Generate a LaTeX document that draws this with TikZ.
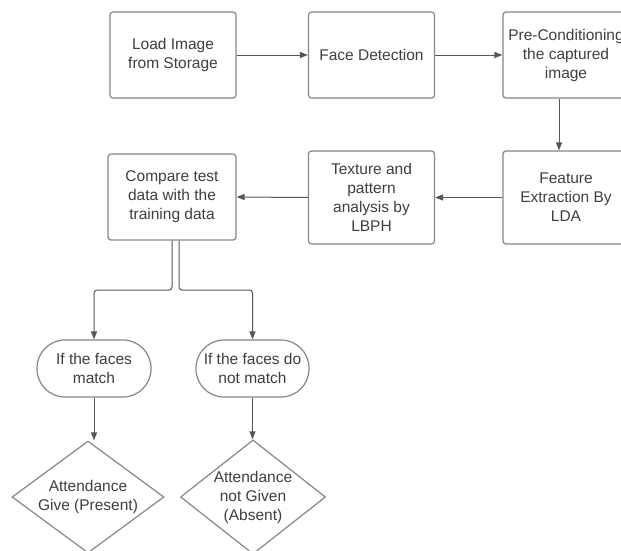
\documentclass[tikz,border=0pt]{standalone}
\usepackage{fontspec}
\setmainfont{Liberation Sans}
\usetikzlibrary{arrows.meta, shapes.geometric}
\definecolor{boxgray}{HTML}{85858C}
\definecolor{linegray}{HTML}{55555D}
\definecolor{txtgray}{HTML}{3E3E46}

\begin{document}
\begin{tikzpicture}[x=1pt, y=-1pt, >={Triangle[length=8pt, width=6pt]},
  stepbox/.style={draw=boxgray, line width=1.2pt, rounded corners=3pt,
    text=txtgray, align=center, inner sep=0pt,
    minimum width=126pt, minimum height=86pt,
    font=\fontsize{15.5}{19}\selectfont},
  termbox/.style={stepbox, rounded corners=28pt,
    minimum width=114pt, minimum height=57pt},
  decision/.style={diamond, draw=boxgray, line width=1.2pt,
    text=txtgray, align=center, inner sep=0pt,
    font=\fontsize{15.5}{19}\selectfont},
  flow/.style={draw=linegray, line width=1pt, ->}]

% Canvas
\useasboundingbox (0,0) rectangle (621,550);
\clip (0,0) rectangle (621,550);
\fill[white] (0,0) rectangle (621,550);

% Top row
\node[stepbox] (load) at (173,55) {Load Image\\from Storage};
\node[stepbox] (face) at (371.5,55) {Face Detection};
\node[stepbox] (precond) at (566,55) {Pre-Conditioning\\the captured\\image};

% Middle row
\node[stepbox, minimum height=93pt] (feature) at (566,197.5) {Feature\\Extraction By\\LDA};
\node[stepbox, minimum height=93pt] (texture) at (371.5,197.5) {Texture and\\pattern\\analysis by\\LBPH};
\node[stepbox, minimum width=128pt] (compare) at (172,197) {Compare test\\data with the\\training data};

% Outcomes
\node[termbox] (match) at (94,368.5) {If the faces\\match};
\node[termbox, minimum width=113pt] (nomatch) at (252.5,368.5) {If the faces do\\not match};

\node[decision, aspect=1.36, minimum width=152pt, minimum height=112pt]
  (present) at (88,497) {Attendance\\Give (Present)};
\node[decision, aspect=1.27, minimum width=140pt, minimum height=110pt]
  (absent) at (253,497) {Attendance\\not Given\\(Absent)};

% Connectors
\draw[flow] (load.east |- face.west) -- (face.west);
\draw[flow] (face.east) -- (face.east -| precond.west);
\draw[flow] ([xshift=-7pt]precond.south) -- ([xshift=-7pt]feature.north);
\draw[flow] (feature.west) -- (texture.east);
\draw[flow] (texture.west) -- (compare.east);

\coordinate (splitL) at (172,290);
\coordinate (splitR) at (179,290);
\draw[flow, rounded corners=3pt] (compare.south) -- (splitL) -- (splitL -| match.north) -- (match.north);
\draw[flow, rounded corners=3pt] ([xshift=7pt]compare.south) -- (splitR) -- (splitR -| nomatch.north) -- (nomatch.north);

\draw[flow] (match.south) -- (match.south |- present.north);
\draw[flow] (nomatch.south) -- (nomatch.south |- absent.north);

\end{tikzpicture}
\end{document}
